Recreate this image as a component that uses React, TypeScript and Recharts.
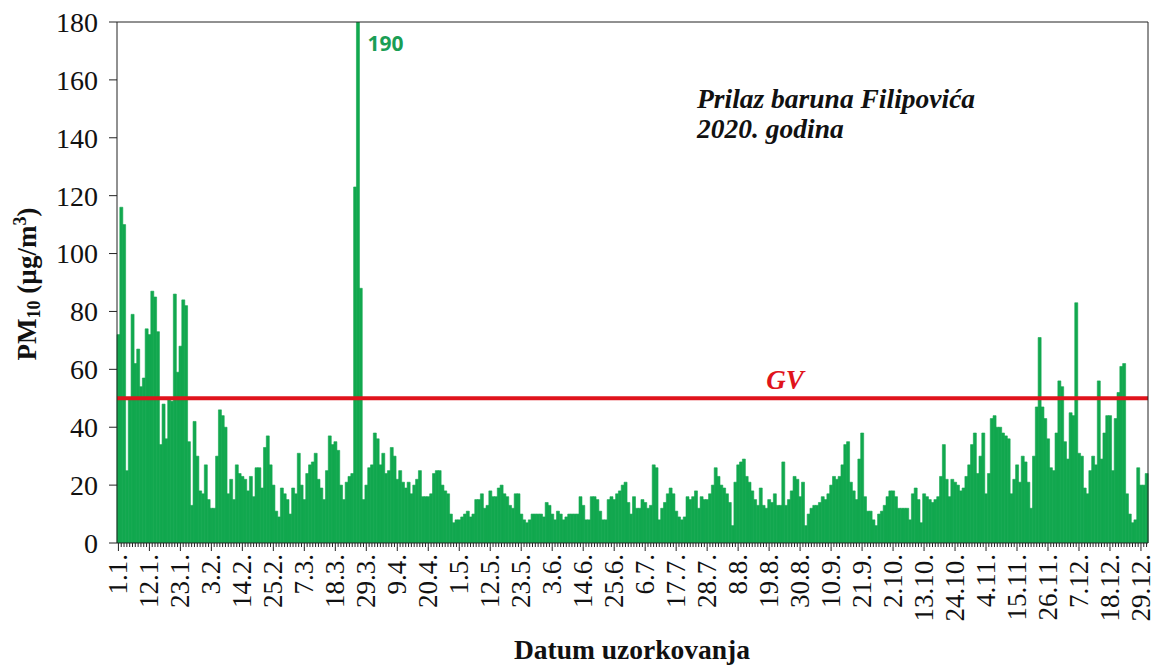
import React from 'react';
import { BarChart, Bar, XAxis, YAxis, ReferenceLine, LabelList } from 'recharts';

// Tick labels every 11 days (2020, leap year)
const tickLabels = [
  '1.1.', '12.1.', '23.1.', '3.2.', '14.2.', '25.2.', '7.3.', '18.3.', '29.3.', '9.4.',
  '20.4.', '1.5.', '12.5.', '23.5.', '3.6.', '14.6.', '25.6.', '6.7.', '17.7.', '28.7.',
  '8.8.', '19.8.', '30.8.', '10.9.', '21.9.', '2.10.', '13.10.', '24.10.', '4.11.', '15.11.',
  '26.11.', '7.12.', '18.12.', '29.12.',
];

const yTicks = [0, 20, 40, 60, 80, 100, 120, 140, 160, 180];
const limitValue = 50;

// Daily PM10 values (µg/m3), 1.1.2020 - 31.12.2020
const pm10Jan = [72, 116, 110, 25, 50, 79, 62, 67, 54, 57, 74, 72, 87, 85, 73, 34, 48, 36, 50, 49, 86, 59, 68, 84, 82, 35, 13, 42, 30, 18, 17];
const pm10Feb = [27, 15, 12, 12, 30, 46, 44, 40, 17, 22, 15, 27, 24, 23, 22, 18, 23, 16, 26, 26, 19, 33, 37, 27, 20, 11, 9, 19, 17];
const pm10Mar = [15, 10, 19, 17, 31, 20, 15, 24, 27, 28, 31, 22, 19, 15, 25, 37, 34, 35, 32, 20, 15, 21, 23, 24, 123, 190, 88, 15, 20, 26, 27];
const pm10Apr = [38, 36, 27, 31, 24, 25, 33, 30, 22, 25, 21, 19, 21, 17, 20, 22, 25, 16, 16, 16, 17, 24, 25, 25, 20, 18, 17, 10, 7, 8];
const pm10May = [8, 9, 10, 11, 9, 10, 15, 15, 17, 12, 13, 18, 16, 16, 19, 20, 17, 16, 13, 12, 17, 17, 10, 8, 7, 8, 10, 10, 10, 10, 9];
const pm10Jun = [14, 13, 10, 8, 11, 10, 8, 9, 10, 10, 10, 10, 16, 13, 8, 8, 16, 16, 15, 11, 8, 8, 15, 16, 15, 17, 18, 20, 21, 14];
const pm10Jul = [10, 16, 12, 12, 15, 14, 12, 13, 27, 26, 8, 12, 14, 17, 19, 17, 11, 9, 8, 9, 16, 15, 16, 18, 12, 16, 15, 15, 17, 20, 26];
const pm10Aug = [23, 20, 19, 17, 14, 6, 21, 27, 28, 29, 23, 21, 18, 15, 13, 19, 13, 12, 15, 14, 17, 13, 13, 28, 13, 15, 18, 23, 22, 16, 21];
const pm10Sep = [6, 10, 12, 13, 13, 14, 16, 15, 17, 20, 23, 22, 23, 27, 34, 35, 21, 18, 15, 29, 38, 16, 11, 11, 8, 6, 10, 11, 13, 16];
const pm10Oct = [18, 18, 16, 12, 12, 12, 12, 8, 17, 19, 15, 7, 17, 16, 15, 14, 15, 16, 23, 34, 22, 16, 22, 21, 20, 18, 19, 23, 27, 34, 38];
const pm10Nov = [24, 30, 38, 17, 24, 43, 44, 40, 40, 38, 37, 36, 17, 22, 27, 21, 30, 28, 21, 12, 30, 47, 71, 47, 43, 36, 26, 25, 38, 56];
const pm10Dec = [54, 35, 29, 45, 44, 83, 31, 30, 19, 17, 25, 30, 27, 56, 29, 38, 44, 44, 25, 43, 52, 61, 62, 17, 10, 7, 8, 26, 20, 20, 24];

const pm10 = [
  ...pm10Jan, ...pm10Feb, ...pm10Mar, ...pm10Apr, ...pm10May, ...pm10Jun,
  ...pm10Jul, ...pm10Aug, ...pm10Sep, ...pm10Oct, ...pm10Nov, ...pm10Dec,
];

const data = pm10.map((v, i) => ({ day: i, pm10: v }));

const yMax = 180;
const serif = '"Liberation Serif", "Times New Roman", serif';
const barColor = '#12a84f';
const lineColor = '#e0141c';
const axisColor = '#222';

const XTick = (props: any) => {
  const { x, y, payload } = props;
  const i = Number(payload.value);
  const major = i % 11 === 0;
  const label = major ? tickLabels[i / 11] : null;
  return (
    <g>
      <line x1={x} x2={x} y1={y} y2={y + (major ? 8 : 4)} stroke={axisColor} strokeWidth={1} />
      {label && (
        <text
          x={x}
          y={y + 11}
          transform={`rotate(-90 ${x} ${y + 11})`}
          textAnchor="end"
          dominantBaseline="central"
          fontSize={27}
          fontFamily={serif}
          fill="#111"
        >
          {label}
        </text>
      )}
    </g>
  );
};

const PeakLabel = (props: any) => {
  const { x, y, width, height, value } = props;
  if (value <= yMax) return null;
  const bottom = y + height;
  const top = bottom - (height * yMax) / value;
  return (
    <text
      x={x + width + 8}
      y={top + 29}
      fontSize={21}
      fontWeight="bold"
      fontFamily='"Open Sans", "Noto Sans", sans-serif'
      fill="#1a9e55"
    >
      {value}
    </text>
  );
};

const GvLabel = (props: any) => {
  const { viewBox } = props;
  return (
    <text
      x={viewBox.x + viewBox.width * 0.648}
      y={viewBox.y - 9}
      textAnchor="middle"
      fontSize={27}
      fontWeight="bold"
      fontStyle="italic"
      fontFamily={serif}
      fill={lineColor}
    >
      GV
    </text>
  );
};

export default function App() {
  return (
    <div style={{ position: 'absolute', left: 0, top: 0, width: 1156, height: 666, background: '#fff' }}>
      <BarChart
        width={1156}
        height={666}
        data={data}
        margin={{ top: 21, right: 7, bottom: 43, left: 57 }}
        barCategoryGap={0}
        barGap={0}
      >
        <XAxis
          dataKey="day"
          type="category"
          interval={0}
          tick={<XTick />}
          tickLine={false}
          tickSize={0}
          tickMargin={0}
          height={80}
          axisLine={{ stroke: axisColor }}
        />
        <XAxis
          xAxisId="top"
          orientation="top"
          dataKey="day"
          type="category"
          tick={false}
          tickLine={false}
          height={1}
          axisLine={{ stroke: axisColor }}
        />
        <YAxis
          domain={[0, yMax]}
          ticks={yTicks}
          allowDataOverflow
          width={60}
          tickSize={8}
          tickMargin={11}
          tickLine={{ stroke: axisColor }}
          axisLine={{ stroke: axisColor }}
          tick={{ fontSize: 28, fontFamily: serif, fill: '#111' }}
        />
        <YAxis
          yAxisId="right"
          orientation="right"
          domain={[0, yMax]}
          width={1}
          tick={false}
          tickLine={false}
          axisLine={{ stroke: axisColor }}
        />
        <Bar dataKey="pm10" fill={barColor} stroke={barColor} strokeWidth={0.6} isAnimationActive={false}>
          <LabelList dataKey="pm10" content={<PeakLabel />} />
        </Bar>
        <ReferenceLine y={limitValue} stroke={lineColor} strokeWidth={4} label={<GvLabel />} />
      </BarChart>

      <div
        style={{
          position: 'absolute',
          left: 697,
          top: 84,
          fontFamily: serif,
          fontWeight: 'bold',
          fontStyle: 'italic',
          fontSize: 27.5,
          lineHeight: '30px',
          color: '#111',
          whiteSpace: 'nowrap',
        }}
      >
        <div>Prilaz baruna Filipovića</div>
        <div>2020. godina</div>
      </div>

      <div
        style={{
          position: 'absolute',
          left: 27,
          top: 284,
          transform: 'translate(-50%, -50%) rotate(-90deg)',
          fontFamily: serif,
          fontWeight: 'bold',
          fontSize: 27,
          color: '#111',
          whiteSpace: 'nowrap',
          lineHeight: '30px',
        }}
      >
        PM<sub style={{ fontSize: 18, verticalAlign: '-4px' }}>10</sub> (µg/m<sup style={{ fontSize: 18, verticalAlign: '10px' }}>3</sup>)
      </div>

      <div
        style={{
          position: 'absolute',
          left: 632,
          top: 650,
          transform: 'translate(-50%, -50%)',
          fontFamily: serif,
          fontWeight: 'bold',
          fontSize: 27.5,
          color: '#111',
          whiteSpace: 'nowrap',
        }}
      >
        Datum uzorkovanja
      </div>
    </div>
  );
}
